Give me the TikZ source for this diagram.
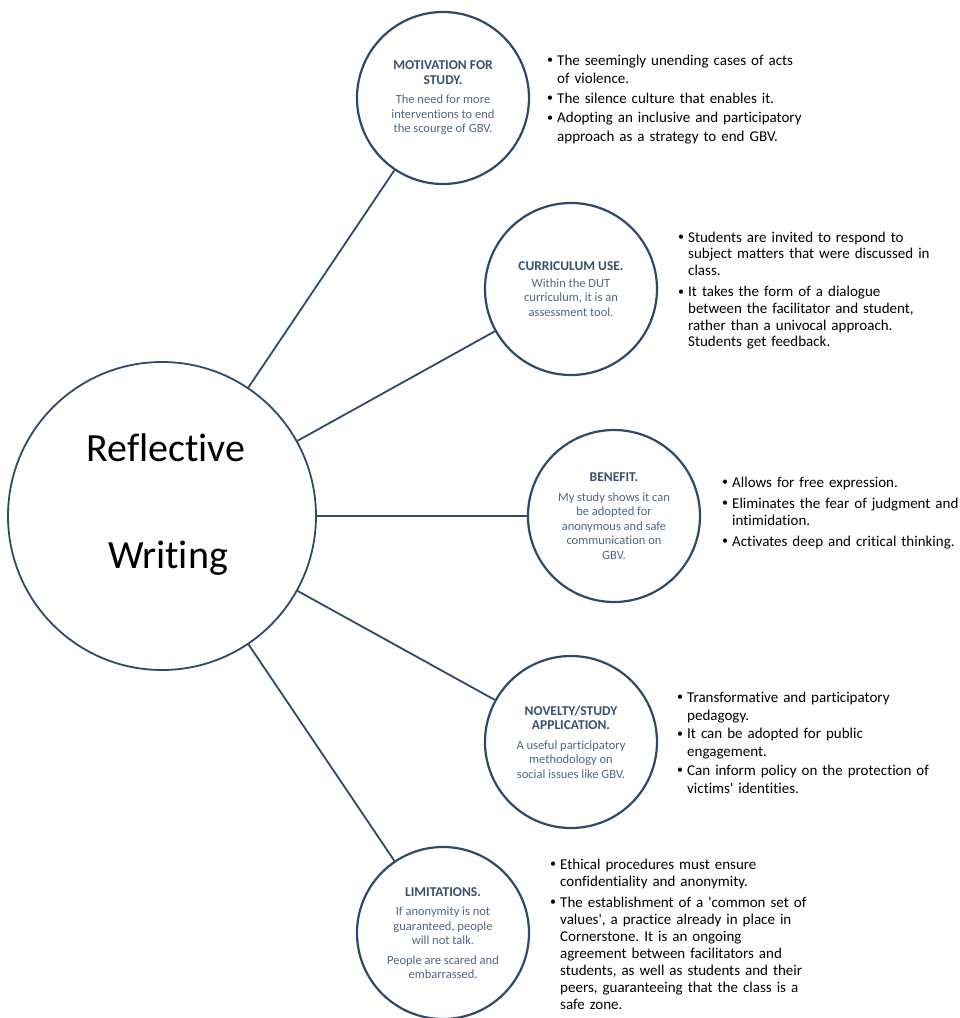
\documentclass[tikz,border=0pt]{standalone}
\usepackage{fontspec}
\setmainfont{Carlito}[Ligatures=NoCommon]
\usetikzlibrary{positioning}
\frenchspacing
\definecolor{ringcol}{HTML}{2F4A68}
\definecolor{headcol}{HTML}{3A4F6E}
\definecolor{bodycol}{HTML}{4F6586}
\newcommand{\bitem}{\hangindent=10pt\hangafter=1\noindent
    \hbox to 10pt{\raisebox{0.15ex}{\fontsize{12}{12}\selectfont\textbullet}\hfil}}
\newcommand{\tophead}[1]{{\fontsize{13.5}{14.5}\selectfont\bfseries\color{headcol}#1}}

\begin{document}
\begin{tikzpicture}[x=1pt,y=-1pt,
    hub/.style={circle,draw=ringcol,line width=1.8pt,minimum size=308pt,inner sep=0pt},
    topic/.style={circle,draw=ringcol,line width=2.2pt,minimum size=172pt,inner sep=0pt,
        align=center,text=bodycol,font=\fontsize{12.5}{14.5}\selectfont},
    link/.style={draw=ringcol,line width=1.8pt},
    bigword/.style={anchor=base,inner sep=0pt,font=\fontsize{40}{40}\selectfont},
    notes/.style 2 args={anchor=base west,inner sep=0pt,text width=330pt,align=left,
        font=\fontsize{15}{#1}\selectfont,execute at begin node={\setlength{\parskip}{#2}}}]
    \useasboundingbox (0,0) rectangle (960,1018);
    % centre
    \node[hub] (rw) at (162,516) {};
    \node[bigword] (rwtop) at (166,461) {Reflective};
    \node[bigword] (rwbot) at (168,568) {Writing};
    % the five topics
    \node[topic] (mot) at (443,98) {\tophead{MOTIVATION FOR}\\\tophead{STUDY.}\\[5pt]
        The need for more\\interventions to end\\the scourge of GBV.};
    \node[topic] (cur) at (571,289) {\tophead{CURRICULUM USE.}\\[2pt]
        Within the DUT\\curriculum, it is an\\assessment tool.};
    \node[topic] (ben) at (614,516) {\tophead{BENEFIT.}\\[5pt]
        My study shows it can\\be adopted for\\anonymous and safe\\communication on\\GBV.};
    \node[topic] (nov) at (571,742) {\tophead{NOVELTY/STUDY}\\\tophead{APPLICATION.}\\[5pt]
        A useful participatory\\methodology on\\social issues like GBV.};
    \node[topic] (lim) at (443,933) {\tophead{LIMITATIONS.}\\[5pt]
        If anonymity is not\\guaranteed, people\\will not talk.\\[5pt]
        People are scared and\\embarrassed.};
    \foreach \t in {mot,cur,ben,nov,lim}
        \draw[link] (rw) -- (\t);
    % bullet notes
    \node[notes={18.5pt}{1pt}] (motnotes) at (547,65) {%
        \bitem The seemingly unending cases of acts\newline of violence.\par
        \bitem The silence culture that enables it.\par
        \bitem Adopting an inclusive and participatory\newline approach as a strategy to end GBV.\par};
    \node[notes={16.8pt}{4pt}] (curnotes) at (678,242) {%
        \bitem Students are invited to respond to\newline subject matters that were discussed in\newline class.\par
        \bitem It takes the form of a dialogue\newline between the facilitator and student,\newline
            rather than a univocal approach.\newline Students get feedback.\par};
    \node[notes={17pt}{4pt}] (bennotes) at (722,487) {%
        \bitem Allows for free expression.\par
        \bitem Eliminates the fear of judgment and\newline intimidation.\par
        \bitem Activates deep and critical thinking.\par};
    \node[notes={18pt}{0.5pt}] (novnotes) at (677,702) {%
        \bitem Transformative and participatory\newline pedagogy.\par
        \bitem It can be adopted for public\newline engagement.\par
        \bitem Can inform policy on the protection of\newline victims\textquotesingle\ identities.\par};
    \node[notes={17pt}{4pt}] (limnotes) at (550,869) {%
        \bitem Ethical procedures must ensure\newline confidentiality and anonymity.\par
        \bitem The establishment of a \textquotesingle common set of\newline
            values\textquotesingle, a practice already in place in\newline
            Cornerstone. It is an ongoing\newline agreement between facilitators and\newline
            students, as well as students and their\newline peers, guaranteeing that the class is a\newline safe zone.\par};
\end{tikzpicture}
\end{document}
